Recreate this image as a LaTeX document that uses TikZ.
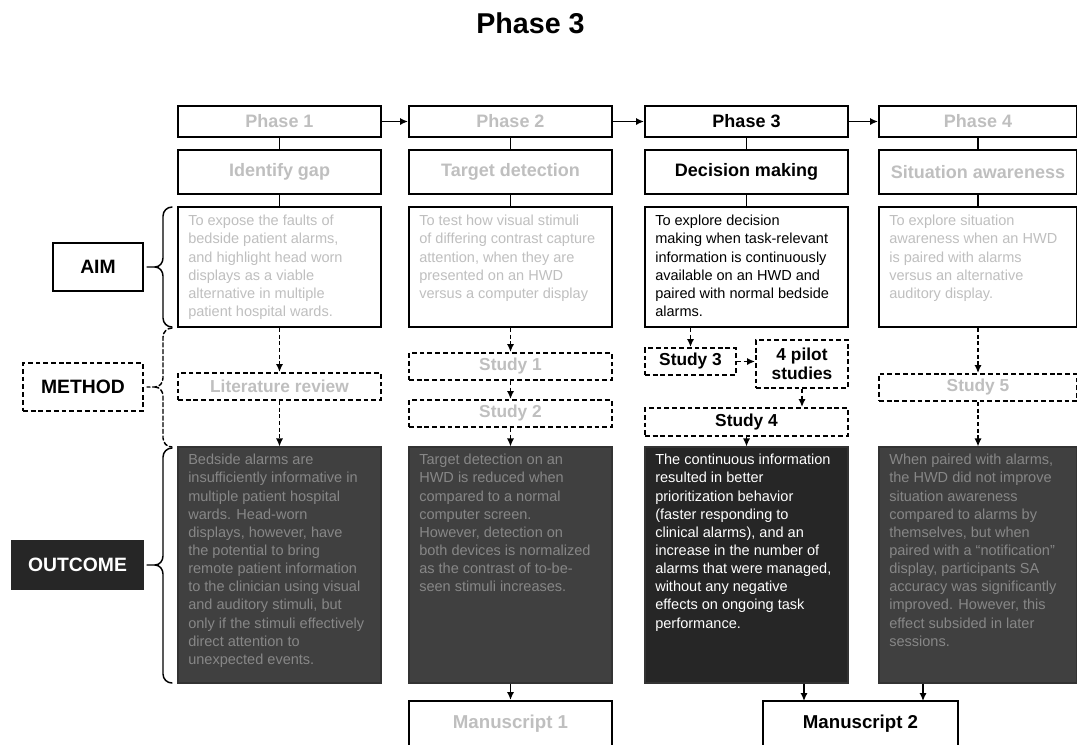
\documentclass[tikz,border=0pt]{standalone}
\usepackage{fontspec}
\setmainfont{Liberation Sans}
\usetikzlibrary{arrows.meta}

\definecolor{faded}{HTML}{BFBFBF}
\definecolor{darkfill}{HTML}{404040}
\definecolor{blackfill}{HTML}{262626}
\definecolor{dimtext}{HTML}{878787}

% rectangle node given by its corners (in picture units): style, name, x1, y1, x2, y2, text
\newcommand\rectnode[7]{%
  \pgfmathsetmacro\rnw{(#5-#3)*0.75}%
  \pgfmathsetmacro\rnh{(#6-#4)*0.75}%
  \node[#1, minimum width=\rnw pt, minimum height=\rnh pt] (#2)
    at ({(#3+#5)/2},{(#4+#6)/2}) {#7};%
}

\begin{document}
\begin{tikzpicture}[
  x=0.75pt, y=-0.75pt,
  frame/.style={draw=black, line width=1.5pt, fill=white, inner sep=0pt},
  dframe/.style={frame, dash pattern=on 3.6pt off 2.2pt},
  hdr/.style={font=\bfseries\fontsize{13.5}{15}\selectfont},
  studyfont/.style={font=\bfseries\fontsize{13}{15}\selectfont},
  para/.style={anchor=north west, inner sep=0pt, align=left,
    font=\fontsize{10.9}{13.6}\selectfont},
  result/.style={draw=black!80, line width=0.8pt, fill=darkfill, inner sep=0pt},
  link/.style={line width=1.1pt},
  arr/.style={link, -{Latex[length=6pt,width=5.4pt]}},
  darr/.style={arr, dash pattern=on 3pt off 2pt},
  side/.style={frame, font=\bfseries\fontsize{14.5}{17}\selectfont},
  bracestyle/.style={line width=1.1pt, line cap=round, line join=round},
]
\useasboundingbox (0,0) rectangle (1077,744);

% title
\node[anchor=base, inner sep=0pt, font=\bfseries\fontsize{21.5}{25}\selectfont]
  (title) at (530.5,33) {Phase 3};

% ---------- phase headers ----------
\rectnode{frame, hdr, text=faded}{p1}{178}{106}{381}{137}{Phase 1}
\rectnode{frame, hdr, text=faded}{p2}{409}{106}{612}{137}{Phase 2}
\rectnode{frame, hdr}{p3}{645}{106}{848}{137}{Phase 3}
\rectnode{frame, hdr, text=faded}{p4}{879}{106}{1077}{137}{Phase 4}

% ---------- topics ----------
\rectnode{frame, hdr, text=faded}{s1}{178}{150}{381}{194}{Identify gap}
\rectnode{frame, hdr, text=faded}{s2}{409}{150}{612}{194}{Target detection}
\rectnode{frame, hdr}{s3}{645}{150}{848}{194}{Decision making}
\rectnode{frame, hdr, text=faded}{s4}{879}{150}{1077}{194}{Situation awareness}

% ---------- aims ----------
\rectnode{frame}{a1}{178}{207}{381}{327}{}
\rectnode{frame}{a2}{409}{207}{612}{327}{}
\rectnode{frame}{a3}{645}{207}{848}{327}{}
\rectnode{frame}{a4}{879}{207}{1077}{327}{}

\node[para, text=faded] (a1t) at (188,215) {To expose the faults of\\bedside patient alarms,\\and highlight head worn\\displays as a viable\\alternative in multiple\\patient hospital wards.};
\node[para, text=faded] (a2t) at (419,215) {To test how visual stimuli\\of differing contrast capture\\attention, when they are\\presented on an HWD\\versus a computer display};
\node[para] (a3t) at (655,215) {To explore decision\\making when task-relevant\\information is continuously\\available on an HWD and\\paired with normal bedside\\alarms.};
\node[para, text=faded] (a4t) at (889,215) {To explore situation\\awareness when an HWD\\is paired with alarms\\versus an alternative\\auditory display.};

% ---------- methods ----------
\rectnode{dframe, studyfont, text=faded}{lit}{178}{373}{381}{400}{Literature review}
\rectnode{dframe, studyfont, text=faded}{st1}{409}{353}{612}{380}{Study 1}
\rectnode{dframe, studyfont, text=faded}{st2}{409}{400}{612}{427}{Study 2}
\rectnode{dframe, studyfont}{st3}{645}{348}{736}{375}{Study 3}
\rectnode{dframe, studyfont, align=center}{pilot}{756}{340}{848}{388}{4 pilot\\[-1pt]studies}
\rectnode{dframe, studyfont}{st4}{645}{408}{848}{436}{Study 4}
\rectnode{dframe, studyfont, text=faded}{st5}{879}{374}{1077}{401}{Study 5}

% ---------- outcomes ----------
\rectnode{result}{o1}{178}{447}{381}{683}{}
\rectnode{result}{o2}{409}{447}{612}{683}{}
\rectnode{result, fill=blackfill}{o3}{645}{447}{848}{683}{}
\rectnode{result}{o4}{879}{447}{1077}{683}{}

\node[para, text=dimtext] (o1t) at (188,454) {Bedside alarms are\\insufficiently informative in\\multiple patient hospital\\wards. Head-worn\\displays, however, have\\the potential to bring\\remote patient information\\to the clinician using visual\\and auditory stimuli, but\\only if the stimuli effectively\\direct attention to\\unexpected events.};
\node[para, text=dimtext] (o2t) at (419,454) {Target detection on an\\HWD is reduced when\\compared to a normal\\computer screen.\\However, detection on\\both devices is normalized\\as the contrast of to-be-\\seen stimuli increases.};
\node[para, text=white] (o3t) at (655,454) {The continuous information\\resulted in better\\prioritization behavior\\(faster responding to\\clinical alarms), and an\\increase in the number of\\alarms that were managed,\\without any negative\\effects on ongoing task\\performance.};
\node[para, text=dimtext] (o4t) at (889,454) {When paired with alarms,\\the HWD did not improve\\situation awareness\\compared to alarms by\\themselves, but when\\paired with a “notification”\\display, participants SA\\accuracy was significantly\\improved. However, this\\effect subsided in later\\sessions.};

% ---------- manuscripts ----------
\rectnode{frame, font=\bfseries\fontsize{14}{16}\selectfont, text=faded}{m1}{409}{701}{612}{747}{Manuscript 1}
\rectnode{frame, font=\bfseries\fontsize{14}{16}\selectfont}{m2}{763}{701}{958}{747}{Manuscript 2}

% ---------- row labels ----------
\rectnode{side}{aim}{53}{243}{143}{291}{AIM}
\rectnode{side, dash pattern=on 3.6pt off 2.2pt}{method}{23}{363}{143}{411}{METHOD}
\rectnode{side, fill=blackfill, draw=blackfill, text=white}{outcome}{12}{541}{143}{589}{OUTCOME}

% ---------- connectors ----------
\draw[arr] (p1) -- (p2);
\draw[arr] (p2) -- (p3);
\draw[arr] (p3) -- (p4);

\foreach \c in {1,2,3,4}{
  \draw[link] (p\c) -- (s\c);
  \draw[link] (s\c) -- (a\c);
}

\draw[darr] (a1) -- (lit);
\draw[darr] (lit) -- (o1);

\draw[darr] (a2) -- (st1);
\draw[darr] (st1) -- (st2);
\draw[darr] (st2) -- (o2);

\draw[darr] (a3.south -| st3.north) -- (st3.north);
\draw[darr] (st3.east) -- (st3.east -| pilot.west);
\draw[darr] (pilot.south) -- (pilot.south |- st4.north);
\draw[darr] (st4) -- (o3);

\draw[darr] (a4) -- (st5);
\draw[darr] (st5) -- (o4);

\draw[arr] (o2.south -| m1.north) -- (m1.north);
\coordinate (m2a) at (804,701);
\coordinate (m2b) at (923,701);
\draw[arr] (o3.south -| m2a) -- (m2a);
\draw[arr] (o4.south -| m2b) -- (m2b);

% ---------- braces ----------
\draw[bracestyle] (172,207) to[out=180,in=90] (163,216) -- (163,258)
  to[out=-90,in=0] (155,267) -- (147,267);
\draw[bracestyle] (155,267) to[out=0,in=90] (163,276) -- (163,318)
  to[out=-90,in=180] (172,327);

\draw[bracestyle, dash pattern=on 3pt off 2pt] (172,328) to[out=180,in=90] (163,337) -- (163,378)
  to[out=-90,in=0] (155,387) -- (147,387);
\draw[bracestyle, dash pattern=on 3pt off 2pt] (155,387) to[out=0,in=90] (163,396) -- (163,438)
  to[out=-90,in=180] (172,447);

\draw[bracestyle] (172,448) to[out=180,in=90] (163,457) -- (163,556)
  to[out=-90,in=0] (155,565) -- (147,565);
\draw[bracestyle] (155,565) to[out=0,in=90] (163,574) -- (163,674)
  to[out=-90,in=180] (172,683);
\end{tikzpicture}
\end{document}
